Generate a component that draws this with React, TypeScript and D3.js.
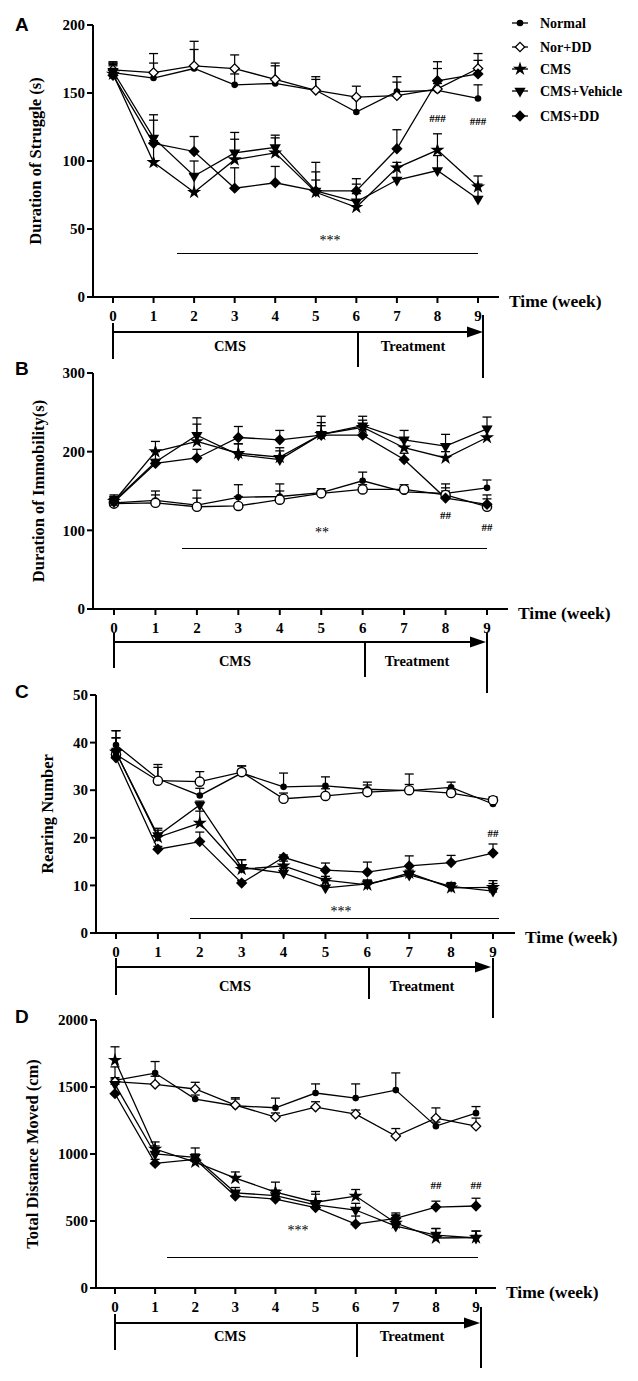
import React from "react";
import * as d3 from "d3";

const weeks = [0, 1, 2, 3, 4, 5, 6, 7, 8, 9];
const seriesNames = ["Normal", "Nor+DD", "CMS", "CMS+Vehicle", "CMS+DD"];

// Panel A: Duration of Struggle (s)
const A_normal = [165, 161, 168, 156, 157, 152, 136, 151, 152, 146];
const A_normal_sem = [7, 11, 14, 8, 13, 8, 10, 11, 5, 10];
const A_nordd = [167, 165, 170, 168, 160, 152, 147, 148, 153, 168];
const A_nordd_sem = [6, 14, 18, 10, 12, 10, 8, 10, 15, 11];
const A_cms = [164, 99, 77, 101, 106, 77, 66, 95, 108, 81];
const A_cms_sem = [6, 16, 13, 15, 11, 9, 10, 4, 12, 8];
const A_veh = [166, 117, 89, 106, 110, 78, 70, 86, 93, 72];
const A_veh_sem = [6, 17, 11, 15, 9, 14, 13, 10, 11, 11];
const A_cmsdd = [163, 113, 107, 80, 84, 78, 78, 109, 159, 164];
const A_cmsdd_sem = [8, 17, 11, 15, 12, 21, 9, 14, 14, 10];

// Panel B: Duration of Immobility(s)
const B_normal = [135, 138, 132, 142, 143, 148, 163, 149, 147, 154];
const B_normal_sem = [10, 12, 19, 16, 16, 5, 11, 9, 12, 10];
const B_nordd = [134, 135, 130, 131, 139, 147, 152, 152, 145, 130];
const B_nordd_sem = [8, 10, 11, 12, 11, 3, 6, 3, 9, 10];
const B_cms = [137, 200, 213, 198, 193, 222, 231, 205, 192, 218];
const B_cms_sem = [6, 13, 22, 12, 8, 15, 9, 10, 8, 14];
const B_veh = [137, 187, 221, 196, 190, 222, 233, 215, 207, 229];
const B_veh_sem = [6, 13, 22, 14, 15, 23, 12, 12, 15, 15];
const B_cmsdd = [136, 185, 192, 218, 215, 221, 221, 190, 141, 133];
const B_cmsdd_sem = [5, 5, 11, 14, 12, 12, 7, 8, 9, 12];

// Panel C: Rearing Number
const C_normal = [39.5, 32.4, 28.9, 33.6, 30.7, 30.9, 30.2, 29.9, 30.6, 27.1];
const C_normal_sem = [3, 3, 1.5, 1.5, 2.9, 1.9, 1.5, 3.5, 1.1, 1.2];
const C_nordd = [37.5, 32.0, 31.8, 33.8, 28.2, 28.8, 29.6, 30.0, 29.4, 27.9];
const C_nordd_sem = [5, 2.8, 2.1, 1.3, 1.2, 1.5, 1.5, 1.2, 0.9, 0.7];
const C_cms = [38.0, 20.1, 23.1, 13.4, 14.1, 11.1, 10.1, 12.6, 9.5, 9.6];
const C_cms_sem = [3, 1.5, 2.5, 2, 1.0, 0.8, 1.0, 0.6, 1.0, 1.4];
const C_veh = [38.0, 20.5, 26.9, 13.8, 12.6, 9.5, 10.3, 12.2, 9.8, 8.8];
const C_veh_sem = [3, 1.5, 0.8, 1.6, 1.0, 1.5, 0.8, 0.5, 0.8, 1.6];
const C_cmsdd = [36.8, 17.6, 19.2, 10.5, 15.9, 13.2, 12.8, 14.1, 14.8, 16.8];
const C_cmsdd_sem = [2, 0.6, 2.0, 0.5, 0.5, 1.5, 2.1, 2.1, 1.5, 1.9];

// Panel D: Total Distance Moved (cm)
const D_normal = [1550, 1604, 1410, 1360, 1345, 1455, 1417, 1477, 1208, 1305];
const D_normal_sem = [100, 86, 30, 60, 72, 68, 106, 128, 30, 49];
const D_nordd = [1540, 1520, 1485, 1365, 1276, 1350, 1298, 1134, 1268, 1208];
const D_nordd_sem = [30, 60, 50, 45, 30, 40, 30, 56, 76, 60];
const D_cms = [1700, 1037, 940, 820, 716, 640, 686, 485, 373, 376];
const D_cms_sem = [100, 53, 50, 46, 74, 80, 49, 60, 71, 49];
const D_veh = [1520, 1000, 975, 710, 690, 620, 582, 462, 395, 373];
const D_veh_sem = [40, 60, 70, 40, 40, 80, 50, 80, 49, 52];
const D_cmsdd = [1450, 930, 960, 686, 664, 600, 477, 520, 604, 612];
const D_cmsdd_sem = [70, 30, 40, 30, 30, 30, 60, 40, 44, 58];

const A_ticks = [0, 50, 100, 150, 200];
const B_ticks = [0, 100, 200, 300];
const C_ticks = [0, 10, 20, 30, 40, 50];
const D_ticks = [0, 500, 1000, 1500, 2000];

const SERIF = "'Liberation Serif', 'Times New Roman', serif";
const SANS = "'Liberation Sans', Arial, sans-serif";

type Sym = "circle" | "openDiamond" | "openCircle" | "star" | "triDown" | "diamond";

function Marker({ x, y, sym }: { x: number; y: number; sym: Sym }) {
  if (sym === "circle") return <circle cx={x} cy={y} r={3.3} fill="#000" />;
  if (sym === "openCircle")
    return <circle cx={x} cy={y} r={4.6} fill="#fff" stroke="#000" strokeWidth={1.4} />;
  if (sym === "openDiamond") {
    const p = d3.symbol().type(d3.symbolSquare).size(44)();
    return (
      <path d={p || ""} transform={`translate(${x},${y}) rotate(45)`} fill="#fff" stroke="#000" strokeWidth={1.3} />
    );
  }
  if (sym === "diamond") {
    const p = d3.symbol().type(d3.symbolSquare).size(64)();
    return <path d={p || ""} transform={`translate(${x},${y}) rotate(45)`} fill="#000" />;
  }
  if (sym === "star") {
    const p = d3.symbol().type(d3.symbolStar).size(62)();
    return <path d={p || ""} transform={`translate(${x},${y})`} fill="#000" />;
  }
  const p = d3.symbol().type(d3.symbolTriangle).size(55)();
  return <path d={p || ""} transform={`translate(${x},${y}) rotate(180)`} fill="#000" />;
}

interface Series {
  name: string;
  values: number[];
  sem: number[];
  sym: Sym;
}

interface Layout {
  letter: string;
  letterY: number;
  yTitle: string;
  yTitleX: number;
  axisX: number;
  yTop: number;
  yBottom: number;
  yMax: number;
  ticks: number[];
  x0: number;
  x9: number;
  axisEnd: number;
  sigY: number;
  sigX1: number;
  sigX2: number;
  sigText: string;
  sigTextX: number;
  sigTextY: number;
  hashes: { w: number; y: number; text: string }[];
  tlY: number;
  tlStartTop: number;
  tlStartBottom: number;
  tlTip: number;
  tlDivX: number;
  tlDivBottom: number;
  tlEndX: number;
  tlEndTop: number;
  tlEndBottom: number;
  cmsX: number;
  treatX: number;
  tlTextY: number;
}

function Panel({ L, series }: { L: Layout; series: Series[] }) {
  const x = d3.scaleLinear().domain([0, 9]).range([L.x0, L.x9]);
  const y = d3.scaleLinear().domain([0, L.yMax]).range([L.yBottom, L.yTop]);
  const line = d3
    .line<number>()
    .x((_, i) => x(weeks[i]))
    .y((d) => y(d));
  const capHW = 4.5;
  return (
    <g>
      <text x={15} y={L.letterY} fontFamily={SANS} fontWeight="bold" fontSize={19} fill="#000">
        {L.letter}
      </text>
      <text
        transform={`translate(${L.yTitleX},${(L.yTop + L.yBottom) / 2}) rotate(-90)`}
        textAnchor="middle"
        fontFamily={SERIF}
        fontWeight="bold"
        fontSize={16.5}
        dy="0.35em"
        fill="#000"
      >
        {L.yTitle}
      </text>
      <line x1={L.axisX} x2={L.axisX} y1={L.yTop} y2={L.yBottom + 1} stroke="#000" strokeWidth={2} />
      <line x1={L.axisX - 1} x2={L.axisEnd} y1={L.yBottom} y2={L.yBottom} stroke="#000" strokeWidth={2} />
      {L.ticks.map((t) => (
        <g key={"yt" + t}>
          <line x1={L.axisX - 6} x2={L.axisX} y1={y(t)} y2={y(t)} stroke="#000" strokeWidth={2} />
          <text
            x={L.axisX - 8}
            y={y(t)}
            dy="0.35em"
            textAnchor="end"
            fontFamily={SERIF}
            fontWeight="bold"
            fontSize={15}
            fill="#000"
          >
            {t}
          </text>
        </g>
      ))}
      {weeks.map((w) => (
        <g key={"xt" + w}>
          <line x1={x(w)} x2={x(w)} y1={L.yBottom} y2={L.yBottom + 6} stroke="#000" strokeWidth={2} />
          <text
            x={x(w)}
            y={L.yBottom + 19}
            dy="0.35em"
            textAnchor="middle"
            fontFamily={SERIF}
            fontWeight="bold"
            fontSize={15}
            fill="#000"
          >
            {w}
          </text>
        </g>
      ))}
      <text
        x={L.axisEnd + 10}
        y={L.yBottom + 4}
        dy="0.35em"
        fontFamily={SERIF}
        fontWeight="bold"
        fontSize={17.5}
        fill="#000"
      >
        Time (week)
      </text>
      <line
        x1={L.sigX1}
        x2={L.sigX2}
        y1={Math.round(L.sigY) + 0.5}
        y2={Math.round(L.sigY) + 0.5}
        stroke="#000"
        strokeWidth={1}
      />
      <text x={L.sigTextX} y={L.sigTextY} dy="0.35em" textAnchor="middle" fontFamily={SERIF} fontSize={14} fill="#000">
        {L.sigText}
      </text>
      {L.hashes.map((h, i) => (
        <text
          key={"h" + i}
          x={x(h.w)}
          y={h.y}
          dy="0.35em"
          textAnchor="middle"
          fontFamily={SERIF}
          fontWeight="bold"
          fontSize={11}
          fill="#000"
        >
          {h.text}
        </text>
      ))}
      {series.map((s) => (
        <path key={"l" + s.name} d={line(s.values) || ""} fill="none" stroke="#000" strokeWidth={1.3} />
      ))}
      {series.map((s) =>
        s.values.map((v, i) => {
          const cx = x(weeks[i]);
          const yt = y(v + s.sem[i]);
          return (
            <g key={"e" + s.name + i}>
              <line x1={cx} x2={cx} y1={y(v)} y2={yt} stroke="#000" strokeWidth={1.2} />
              <line x1={cx - capHW} x2={cx + capHW} y1={yt} y2={yt} stroke="#000" strokeWidth={1.3} />
            </g>
          );
        })
      )}
      {series.map((s) =>
        s.values.map((v, i) => <Marker key={"m" + s.name + i} x={x(weeks[i])} y={y(v)} sym={s.sym} />)
      )}
      <line x1={L.x0} x2={L.x0} y1={L.tlStartTop} y2={L.tlStartBottom} stroke="#000" strokeWidth={2} />
      <line x1={L.x0} x2={L.tlTip - 12} y1={L.tlY} y2={L.tlY} stroke="#000" strokeWidth={2.2} />
      <path
        d={`M${L.tlTip - 16},${L.tlY - 5.5} L${L.tlTip},${L.tlY} L${L.tlTip - 16},${L.tlY + 5.5} Z`}
        fill="#000"
      />
      <line x1={L.tlDivX} x2={L.tlDivX} y1={L.tlY} y2={L.tlDivBottom} stroke="#000" strokeWidth={2} />
      <line x1={L.tlEndX} x2={L.tlEndX} y1={L.tlEndTop} y2={L.tlEndBottom} stroke="#000" strokeWidth={2} />
      <text x={L.cmsX} y={L.tlTextY} dy="0.35em" textAnchor="middle" fontFamily={SERIF} fontWeight="bold" fontSize={14.5} fill="#000">
        CMS
      </text>
      <text x={L.treatX} y={L.tlTextY} dy="0.35em" textAnchor="middle" fontFamily={SERIF} fontWeight="bold" fontSize={14.5} fill="#000">
        Treatment
      </text>
    </g>
  );
}

function mk(names: string[], vals: number[][], sems: number[][], syms: Sym[]): Series[] {
  return names.map((n, i) => ({ name: n, values: vals[i], sem: sems[i], sym: syms[i] }));
}

const symsAD: Sym[] = ["circle", "openDiamond", "star", "triDown", "diamond"];
const symsBC: Sym[] = ["circle", "openCircle", "star", "triDown", "diamond"];

export default function App() {
  const sA = mk(
    seriesNames,
    [A_normal, A_nordd, A_cms, A_veh, A_cmsdd],
    [A_normal_sem, A_nordd_sem, A_cms_sem, A_veh_sem, A_cmsdd_sem],
    symsAD
  );
  const sB = mk(
    seriesNames,
    [B_normal, B_nordd, B_cms, B_veh, B_cmsdd],
    [B_normal_sem, B_nordd_sem, B_cms_sem, B_veh_sem, B_cmsdd_sem],
    symsBC
  );
  const sC = mk(
    seriesNames,
    [C_normal, C_nordd, C_cms, C_veh, C_cmsdd],
    [C_normal_sem, C_nordd_sem, C_cms_sem, C_veh_sem, C_cmsdd_sem],
    symsBC
  );
  const sD = mk(
    seriesNames,
    [D_normal, D_nordd, D_cms, D_veh, D_cmsdd],
    [D_normal_sem, D_nordd_sem, D_cms_sem, D_veh_sem, D_cmsdd_sem],
    symsAD
  );

  const LA: Layout = {
    letter: "A", letterY: 31, yTitle: "Duration of Struggle (s)", yTitleX: 35,
    axisX: 93, yTop: 25, yBottom: 297, yMax: 200, ticks: A_ticks, x0: 113, x9: 478, axisEnd: 499,
    sigY: 253, sigX1: 177, sigX2: 478, sigText: "***", sigTextX: 330, sigTextY: 240,
    hashes: [{ w: 8, y: 118, text: "###" }, { w: 9, y: 121, text: "###" }],
    tlY: 332, tlStartTop: 323, tlStartBottom: 359, tlTip: 483, tlDivX: 358, tlDivBottom: 367,
    tlEndX: 483, tlEndTop: 315, tlEndBottom: 378, cmsX: 230, treatX: 413, tlTextY: 346,
  };
  const LB: Layout = {
    letter: "B", letterY: 375, yTitle: "Duration of Immobility(s)", yTitleX: 38,
    axisX: 93, yTop: 373, yBottom: 609, yMax: 300, ticks: B_ticks, x0: 114, x9: 487, axisEnd: 508,
    sigY: 548, sigX1: 182, sigX2: 487, sigText: "**", sigTextX: 322, sigTextY: 532,
    hashes: [{ w: 8, y: 515, text: "##" }, { w: 9, y: 527, text: "##" }],
    tlY: 642, tlStartTop: 633, tlStartBottom: 668, tlTip: 486, tlDivX: 365, tlDivBottom: 677,
    tlEndX: 487, tlEndTop: 633, tlEndBottom: 693, cmsX: 235, treatX: 417, tlTextY: 661,
  };
  const LC: Layout = {
    letter: "C", letterY: 698, yTitle: "Rearing Number", yTitleX: 47,
    axisX: 96, yTop: 695, yBottom: 933, yMax: 50, ticks: C_ticks, x0: 116, x9: 493, axisEnd: 515,
    sigY: 918, sigX1: 190, sigX2: 499, sigText: "***", sigTextX: 341, sigTextY: 911,
    hashes: [{ w: 9, y: 833, text: "##" }],
    tlY: 967, tlStartTop: 958, tlStartBottom: 995, tlTip: 491, tlDivX: 369, tlDivBottom: 999,
    tlEndX: 493, tlEndTop: 958, tlEndBottom: 1018, cmsX: 235, treatX: 422, tlTextY: 986,
  };
  const LD: Layout = {
    letter: "D", letterY: 1023, yTitle: "Total Distance Moved (cm)", yTitleX: 32,
    axisX: 96, yTop: 1020, yBottom: 1288, yMax: 2000, ticks: D_ticks, x0: 115, x9: 476, axisEnd: 496,
    sigY: 1257, sigX1: 167, sigX2: 478, sigText: "***", sigTextX: 298, sigTextY: 1230,
    hashes: [{ w: 8, y: 1185, text: "##" }, { w: 9, y: 1185, text: "##" }],
    tlY: 1323, tlStartTop: 1314, tlStartBottom: 1350, tlTip: 480, tlDivX: 357, tlDivBottom: 1357,
    tlEndX: 481, tlEndTop: 1307, tlEndBottom: 1368, cmsX: 230, treatX: 412, tlTextY: 1336,
  };

  const legendY = [23, 47, 69, 91, 116];

  return (
    <svg
      width={638}
      height={1381}
      style={{ position: "absolute", left: 0, top: 0, background: "#fff" }}
    >
      <rect width={638} height={1381} fill="#fff" />
      <Panel L={LA} series={sA} />
      <Panel L={LB} series={sB} />
      <Panel L={LC} series={sC} />
      <Panel L={LD} series={sD} />
      {seriesNames.map((n, i) => (
        <g key={"lg" + n}>
          <line x1={512} x2={528} y1={legendY[i]} y2={legendY[i]} stroke="#000" strokeWidth={1.3} />
          <Marker x={520} y={legendY[i]} sym={symsAD[i]} />
          <text x={540} y={legendY[i]} dy="0.35em" fontFamily={SERIF} fontWeight="bold" fontSize={14} fill="#000">
            {n}
          </text>
        </g>
      ))}
    </svg>
  );
}
